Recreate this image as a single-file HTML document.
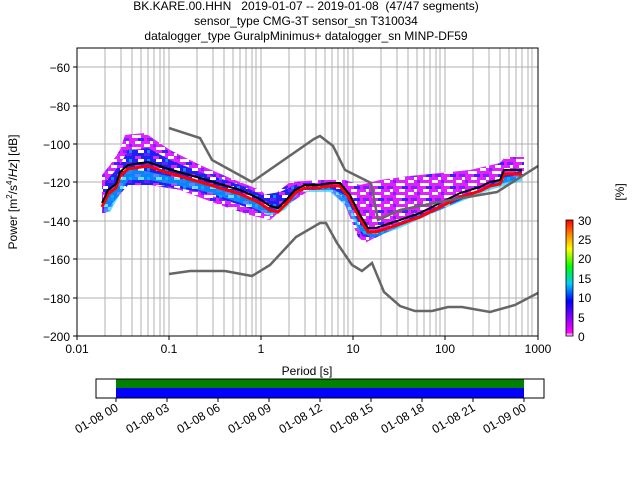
<!DOCTYPE html>
<html><head><meta charset="utf-8"><style>
body{margin:0;background:#fff;}
svg{font-family:"Liberation Sans","DejaVu Sans",sans-serif;}
</style></head><body>
<svg width="640" height="480" viewBox="0 0 640 480" xmlns="http://www.w3.org/2000/svg">
<defs>
<linearGradient id="cb" x1="0" y1="1" x2="0" y2="0">
<stop offset="0" stop-color="#ffffff"/><stop offset="0.03" stop-color="#ff00ff"/>
<stop offset="0.2" stop-color="#6000ff"/><stop offset="0.3" stop-color="#0000ff"/>
<stop offset="0.45" stop-color="#00ccff"/><stop offset="0.6" stop-color="#00ff00"/>
<stop offset="0.75" stop-color="#ffff00"/><stop offset="0.88" stop-color="#ff8000"/>
<stop offset="1" stop-color="#ff0000"/></linearGradient>
<pattern id="sp" width="24" height="12" patternUnits="userSpaceOnUse">
<rect width="24" height="12" fill="#e020ff"/>
<rect x="0" y="0" width="6" height="3" fill="#fff"/><rect x="12" y="3" width="9" height="3" fill="#fff"/>
<rect x="3" y="6" width="6" height="3" fill="#8020ff"/><rect x="15" y="9" width="6" height="3" fill="#fff"/>
<rect x="9" y="0" width="3" height="3" fill="#8020ff"/><rect x="6" y="9" width="3" height="3" fill="#fff"/>
<rect x="18" y="6" width="6" height="3" fill="#4020ff"/>
</pattern>
<pattern id="sb" width="18" height="9" patternUnits="userSpaceOnUse">
<rect width="18" height="9" fill="#2020f0"/>
<rect x="0" y="0" width="6" height="3" fill="#6020ff"/><rect x="9" y="3" width="6" height="3" fill="#e020ff"/>
<rect x="3" y="6" width="3" height="3" fill="#0090ff"/><rect x="12" y="6" width="6" height="3" fill="#fff"/>
</pattern>
<clipPath id="pc"><rect x="77" y="48" width="461" height="288"/></clipPath>
</defs>
<text x="306" y="10" font-size="12" text-anchor="middle" xml:space="preserve">BK.KARE.00.HHN   2019-01-07 -- 2019-01-08  (47/47 segments)</text>
<text x="306" y="25" font-size="12" text-anchor="middle">sensor_type CMG-3T sensor_sn T310034</text>
<text x="306" y="40" font-size="12" text-anchor="middle">datalogger_type GuralpMinimus+ datalogger_sn MINP-DF59</text>
<g stroke="#b0b0b0" stroke-width="1">
<path d="M105 48V336M121 48V336M132 48V336M141 48V336M148 48V336M154 48V336M160 48V336M164 48V336M169 48V336M197 48V336M213 48V336M224 48V336M233 48V336M240 48V336M246 48V336M252 48V336M256 48V336M261 48V336M289 48V336M305 48V336M316 48V336M325 48V336M332 48V336M338 48V336M344 48V336M348 48V336M353 48V336M381 48V336M397 48V336M408 48V336M417 48V336M424 48V336M430 48V336M436 48V336M440 48V336M445 48V336M473 48V336M489 48V336M500 48V336M509 48V336M516 48V336M522 48V336M528 48V336M532 48V336"/>
<path d="M77 67H538M77 106H538M77 144H538M77 182H538M77 221H538M77 259H538M77 298H538"/>
</g>
<g clip-path="url(#pc)">
<path d="M102 175L110 165L120 150L125 135L145 133L170 150L200 165L230 178L260 190L270 198L290 182L320 180L345 180L360 185L380 180L410 176L440 173L470 170L500 163L505 157L524 157L524 175L490 185L440 207L400 224L380 235L365 243L358 237L345 205L330 190L310 190L290 203L270 220L250 215L220 205L180 190L150 185L125 180L110 210L102 215Z" fill="url(#sp)"/>
<path d="M103 185L120 165L128 150L148 148L170 160L200 172L240 185L262 195L280 192L300 183L340 183L352 200L362 225L380 232L400 222L440 205L480 190L505 175L522 170L522 178L490 187L440 210L400 226L375 238L362 236L350 205L335 190L300 190L285 205L268 215L240 205L200 192L160 185L128 185L110 206L103 210Z" fill="url(#sb)"/>
<path d="M104 198L120 180L130 168L150 172L200 183L250 198L270 212L285 205L295 192L330 188L345 195L360 225L372 232L400 224L440 208L480 192L505 177L522 175L522 181L490 190L440 210L400 228L372 238L358 230L345 205L330 192L300 192L285 210L270 216L250 206L200 190L150 180L128 180L110 212L104 212Z" fill="#00c8ff" opacity="0.6"/>
<polyline points="102,207 108,194 116,188 120,176 128,169 148,166 165,172 200,182 240,194 258,202 270,210 278,212 286,204 295,193 305,188 318,188 330,186 340,186 350,199 360,219 368,232 376,232 385,229 400,224 420,217 440,207 460,197 480,191 490,186 500,184 504,174 522,174" fill="none" stroke="#ff0000" stroke-width="3"/>
<polyline points="102,203 108,190 116,184 120,172 128,165 148,162 165,168 200,178 240,190 258,198 270,206 278,208 286,200 295,190 305,185 318,185 330,183 340,183 350,195 360,215 368,228 376,228 385,225 400,220 420,213 440,203 460,193 480,187 490,182 500,180 504,170 522,170" fill="none" stroke="#000" stroke-width="2"/>
<polyline points="169,128 200,138 212,160 252,182 314,139 320,136 333,146 345,170 371,183 378,220 400,210 450,200 497,192 538,166" fill="none" stroke="#666" stroke-width="2.5"/>
<polyline points="169,274 190,271 225,271 252,276 270,265 296,237 320,223 326,223 337,243 352,265 362,271 372,263 384,292 400,306 415,311 432,311 448,307 462,307 490,312 515,305 538,293" fill="none" stroke="#666" stroke-width="2.5"/>
</g>
<rect x="77" y="48" width="461" height="288" fill="none" stroke="#000" stroke-width="1"/>
<g stroke="#000"><path d="M77 336v4M169 336v4M261 336v4M353 336v4M445 336v4M538 336v4M77 67h-4M77 106h-4M77 144h-4M77 182h-4M77 221h-4M77 259h-4M77 298h-4M77 336h-4"/></g>
<g font-size="12" text-anchor="middle">
<text x="77" y="353">0.01</text><text x="169" y="353">0.1</text><text x="261" y="353">1</text><text x="353" y="353">10</text><text x="445" y="353">100</text><text x="538" y="353">1000</text>
<text x="307" y="375">Period [s]</text></g>
<g font-size="12" text-anchor="end">
<text x="70" y="72">−60</text><text x="70" y="111">−80</text><text x="70" y="149">−100</text><text x="70" y="187">−120</text><text x="70" y="226">−140</text><text x="70" y="264">−160</text><text x="70" y="303">−180</text><text x="70" y="341">−200</text></g>
<text transform="translate(17,192) rotate(-90)" font-size="12" text-anchor="middle">Power [m<tspan font-size="8" dy="-5">2</tspan><tspan dy="5">/s</tspan><tspan font-size="8" dy="-5">4</tspan><tspan dy="5">/</tspan><tspan font-style="italic">Hz</tspan>] [dB]</text>
<rect x="566" y="220" width="7" height="116" fill="url(#cb)" stroke="#000" stroke-width="0.8"/>
<g font-size="12"><text x="578" y="225">30</text><text x="578" y="244">25</text><text x="578" y="263">20</text><text x="578" y="283">15</text><text x="578" y="302">10</text><text x="578" y="322">5</text><text x="578" y="341">0</text></g>
<text transform="translate(624,192) rotate(-90)" font-size="12" text-anchor="middle">[%]</text>
<rect x="116" y="379" width="408" height="9" fill="#008000"/>
<rect x="116" y="388" width="408" height="10" fill="#0000ff"/>
<rect x="96" y="379" width="448" height="19" fill="none" stroke="#000" stroke-width="1"/>
<g stroke="#000"><path d="M116 398v4M167 398v4M218 398v4M269 398v4M320 398v4M371 398v4M422 398v4M473 398v4M524 398v4"/></g>
<g font-size="12" text-anchor="end">
<text transform="translate(119,410) rotate(-30)">01-08 00</text>
<text transform="translate(170,410) rotate(-30)">01-08 03</text>
<text transform="translate(221,410) rotate(-30)">01-08 06</text>
<text transform="translate(272,410) rotate(-30)">01-08 09</text>
<text transform="translate(323,410) rotate(-30)">01-08 12</text>
<text transform="translate(374,410) rotate(-30)">01-08 15</text>
<text transform="translate(425,410) rotate(-30)">01-08 18</text>
<text transform="translate(476,410) rotate(-30)">01-08 21</text>
<text transform="translate(527,410) rotate(-30)">01-09 00</text>
</g>
</svg>
</body></html>
